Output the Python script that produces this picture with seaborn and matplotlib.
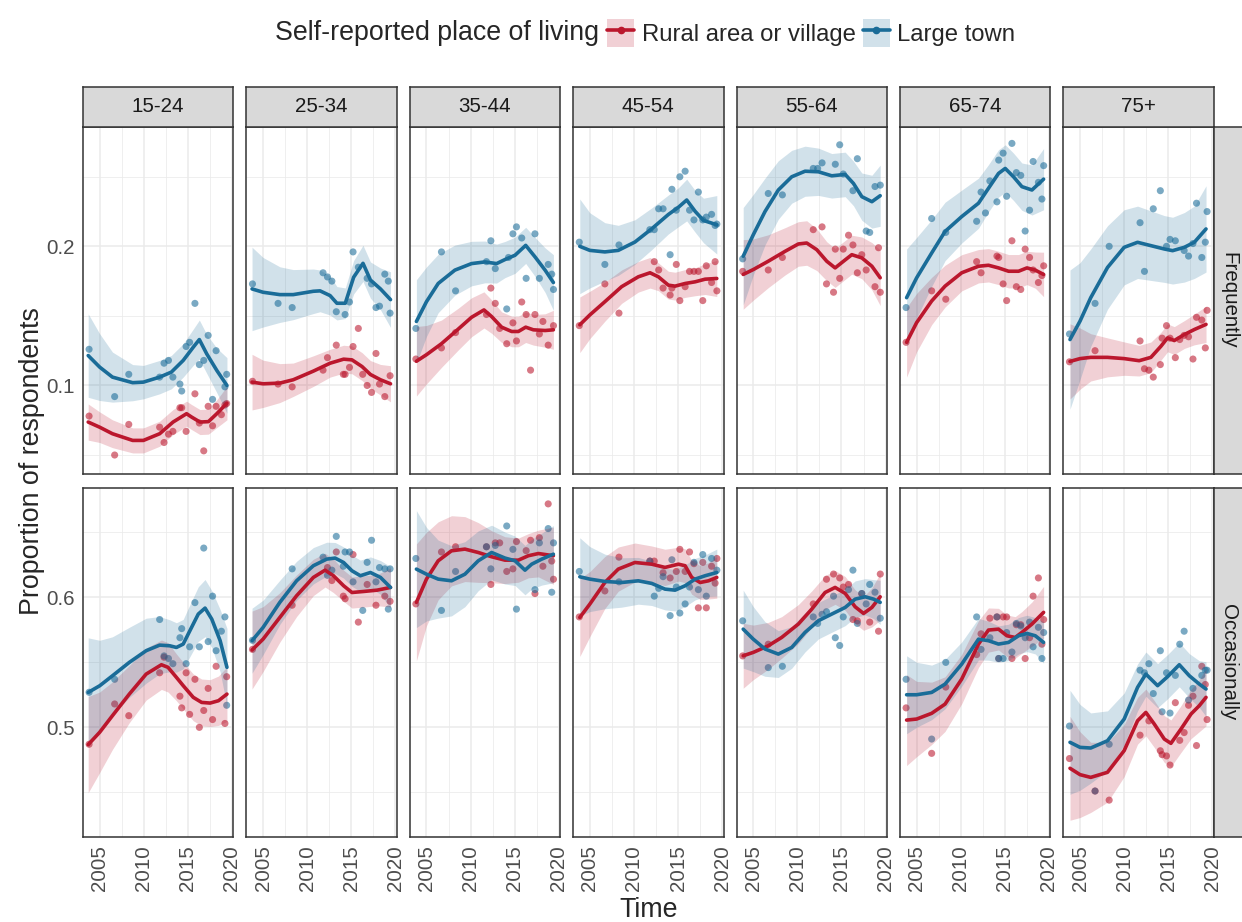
import numpy as np
import pandas as pd
import matplotlib
matplotlib.use("Agg")
import matplotlib.pyplot as plt
import seaborn as sns
from matplotlib.lines import Line2D
from matplotlib.patches import Patch

NA = np.nan

AGE_GROUPS = ["15-24", "25-34", "35-44", "45-54", "55-64", "65-74", "75+"]
FREQUENCIES = ["Frequently", "Occasionally"]
PLACES = ["Rural area or village", "Large town"]
LEGEND_TITLE = "Self-reported place of living"
X_LABEL = "Time"
Y_LABEL = "Proportion of respondents"
X_TICKS = [2005, 2010, 2015, 2020]
Y_TICKS_FREQ = [0.1, 0.2]
Y_TICKS_OCC = [0.5, 0.6]

# survey waves (decimal year)
WAVES = [2003.8, 2006.7, 2008.3, 2011.8, 2012.3, 2012.8, 2013.3, 2014.1, 2014.3, 2014.8,
         2015.2, 2015.8, 2016.3, 2016.8, 2017.3, 2017.8, 2018.2, 2018.8, 2019.2, 2019.4]

# ---- observed proportions, one list per age group (aligned with WAVES) ----
FREQ_RURAL_PTS = [
    [0.078, 0.050, 0.072, 0.070, 0.059, 0.065, 0.067, 0.084, 0.084, 0.067, NA, 0.094, 0.073, 0.053, 0.085, 0.071, 0.085, 0.079, 0.086, 0.087],
    [0.103, 0.101, 0.099, 0.111, 0.120, NA, 0.129, 0.108, 0.108, 0.113, 0.128, 0.141, 0.108, 0.100, 0.095, 0.123, 0.101, 0.092, NA, 0.107],
    [0.119, 0.127, 0.138, 0.151, 0.170, 0.159, 0.141, 0.130, NA, 0.145, 0.132, 0.160, 0.151, 0.111, 0.151, 0.137, 0.146, 0.129, NA, 0.143],
    [0.143, 0.173, 0.152, NA, 0.189, 0.183, 0.170, 0.165, 0.170, 0.187, 0.161, 0.171, 0.182, 0.182, 0.182, 0.161, 0.186, 0.174, 0.189, 0.168],
    [0.182, 0.183, 0.192, 0.212, NA, 0.214, 0.173, 0.167, 0.198, 0.177, 0.198, 0.208, 0.201, 0.181, 0.194, 0.183, NA, 0.171, 0.199, 0.167],
    [0.131, 0.168, 0.162, 0.189, 0.181, NA, NA, 0.193, 0.192, 0.173, 0.161, 0.204, 0.171, 0.169, 0.198, 0.192, 0.183, 0.174, 0.179, 0.186],
    [0.117, 0.125, NA, 0.132, 0.112, 0.111, 0.106, 0.115, 0.134, 0.143, 0.134, 0.120, 0.133, 0.136, 0.135, 0.119, 0.149, 0.147, 0.127, 0.154],
]
FREQ_TOWN_PTS = [
    [0.126, 0.092, 0.108, 0.106, 0.116, 0.118, 0.106, 0.101, 0.096, 0.128, 0.131, 0.159, 0.115, 0.118, 0.136, 0.090, 0.125, NA, 0.099, 0.108],
    [0.173, 0.159, 0.156, 0.181, 0.178, 0.175, 0.153, NA, 0.151, 0.160, 0.196, 0.185, NA, 0.177, 0.173, 0.156, 0.157, 0.180, 0.175, 0.152],
    [0.141, 0.196, 0.168, 0.189, 0.204, 0.184, NA, 0.155, 0.192, 0.209, 0.214, 0.206, 0.177, NA, 0.209, 0.177, NA, 0.187, 0.180, 0.169],
    [0.203, 0.187, 0.201, 0.212, 0.212, 0.227, 0.227, 0.194, 0.241, 0.226, 0.250, 0.254, 0.226, 0.219, 0.239, 0.219, 0.221, 0.223, 0.215, 0.216],
    [0.191, 0.238, 0.237, 0.256, 0.256, 0.260, NA, NA, 0.259, 0.273, 0.252, NA, 0.240, 0.263, NA, 0.211, 0.210, 0.243, NA, 0.244],
    [0.156, 0.220, 0.210, 0.218, 0.239, 0.224, 0.247, 0.232, 0.262, 0.267, 0.236, 0.274, 0.253, 0.251, 0.211, 0.226, 0.261, 0.246, 0.234, 0.258],
    [0.137, 0.159, 0.200, 0.217, 0.182, NA, 0.227, 0.240, NA, 0.200, 0.205, 0.204, NA, 0.197, 0.193, 0.202, 0.231, 0.192, 0.203, 0.225],
]
OCC_RURAL_PTS = [
    [0.487, 0.518, 0.509, 0.542, 0.554, NA, NA, 0.524, 0.515, 0.542, 0.510, 0.537, 0.500, 0.513, 0.530, 0.506, 0.547, NA, 0.503, 0.539],
    [0.560, NA, 0.594, NA, 0.623, 0.613, 0.635, 0.601, 0.599, NA, 0.633, 0.581, NA, 0.610, NA, 0.594, NA, 0.601, NA, 0.597],
    [0.595, 0.635, 0.639, 0.639, 0.610, 0.642, 0.642, 0.620, NA, 0.622, 0.643, NA, 0.636, 0.644, 0.603, 0.646, 0.624, 0.672, 0.628, 0.614],
    [0.585, 0.605, 0.631, 0.628, 0.628, NA, 0.619, 0.615, NA, 0.620, 0.637, 0.620, 0.635, 0.626, 0.592, 0.627, 0.592, 0.624, 0.611, 0.630],
    [0.555, 0.564, NA, 0.595, NA, NA, 0.614, 0.618, NA, 0.615, 0.608, 0.610, 0.583, 0.582, 0.603, NA, 0.581, NA, 0.574, 0.618],
    [0.515, 0.480, 0.531, 0.556, 0.572, NA, 0.584, 0.585, 0.553, 0.585, 0.585, 0.553, 0.579, 0.579, 0.553, 0.569, 0.601, 0.615, 0.564, 0.583],
    [0.476, 0.451, 0.444, 0.494, NA, 0.505, NA, 0.482, 0.479, 0.478, 0.471, 0.519, 0.490, 0.496, 0.517, 0.524, 0.486, 0.547, 0.533, 0.506],
]
OCC_TOWN_PTS = [
    [0.527, 0.537, NA, 0.583, 0.555, 0.553, 0.549, 0.569, 0.576, 0.549, 0.562, 0.596, 0.562, 0.638, 0.566, 0.601, 0.559, 0.574, 0.585, 0.517],
    [0.567, NA, 0.622, 0.631, 0.617, 0.621, 0.647, 0.624, 0.635, 0.635, 0.612, NA, 0.590, 0.627, 0.644, 0.612, 0.623, 0.622, 0.591, 0.622],
    [0.630, 0.590, 0.620, 0.639, 0.622, 0.640, NA, 0.655, NA, 0.637, 0.591, NA, NA, NA, 0.606, 0.642, NA, 0.653, 0.604, 0.642],
    [0.620, NA, 0.612, 0.628, 0.601, 0.607, 0.616, 0.586, 0.629, 0.608, 0.588, 0.595, 0.608, 0.627, 0.606, 0.633, 0.601, 0.630, NA, 0.621],
    [0.582, 0.546, 0.547, 0.585, 0.580, 0.587, 0.589, 0.601, 0.569, 0.563, 0.585, 0.606, 0.621, 0.580, 0.603, 0.595, 0.610, 0.604, NA, 0.584],
    [0.537, 0.491, 0.550, 0.585, 0.560, NA, 0.569, 0.585, 0.553, 0.553, 0.573, 0.558, 0.580, 0.578, 0.569, 0.581, 0.562, 0.577, 0.553, 0.573],
    [0.501, 0.451, 0.487, 0.544, 0.542, 0.549, 0.526, 0.559, 0.512, 0.542, 0.511, 0.540, 0.564, 0.574, 0.521, 0.530, NA, 0.540, 0.544, 0.544],
]

# ---- smoothed trend: year, fit, ribbon half-width ----
FREQ_RURAL_FIT_X = [
    [2003.7, 2005.0, 2006.45, 2008.74, 2009.96, 2011.8, 2013.32, 2014.85, 2015.42, 2016.37, 2017.33, 2018.28, 2019.43],
    [2003.75, 2005.0, 2006.9, 2008.42, 2010.7, 2012.6, 2014.13, 2015.08, 2016.22, 2017.17, 2018.31, 2019.45],
    [2003.86, 2005.0, 2006.7, 2008.6, 2010.11, 2011.52, 2012.39, 2013.52, 2014.66, 2015.42, 2016.25, 2017.12, 2018.45, 2019.39],
    [2003.86, 2005.0, 2006.7, 2008.6, 2010.49, 2011.82, 2012.77, 2013.9, 2014.66, 2015.8, 2016.93, 2018.07, 2019.39],
    [2003.86, 2005.0, 2006.7, 2008.6, 2010.11, 2011.06, 2012.2, 2013.33, 2014.28, 2015.23, 2016.17, 2017.31, 2018.45, 2019.39],
    [2003.86, 2005.0, 2006.7, 2008.22, 2010.11, 2012.01, 2013.14, 2014.28, 2015.42, 2016.55, 2017.5, 2018.45, 2019.39],
    [2003.86, 2005.0, 2006.21, 2008.11, 2010.0, 2011.7, 2013.03, 2014.17, 2014.92, 2015.68, 2016.82, 2017.95, 2019.28],
]
FREQ_RURAL_FIT_Y = [
    [0.0737, 0.070, 0.0653, 0.0605, 0.0605, 0.0653, 0.0737, 0.0797, 0.0773, 0.0737, 0.074, 0.0797, 0.0873],
    [0.1024, 0.1012, 0.1017, 0.1041, 0.1103, 0.116, 0.1189, 0.1184, 0.1136, 0.1079, 0.1041, 0.1012],
    [0.1174, 0.1221, 0.13, 0.1405, 0.149, 0.1543, 0.1495, 0.1419, 0.1388, 0.1388, 0.1419, 0.14, 0.1395, 0.14],
    [0.1436, 0.1507, 0.1602, 0.171, 0.1781, 0.181, 0.1781, 0.1721, 0.1714, 0.1733, 0.1745, 0.1764, 0.1769],
    [0.1798, 0.1833, 0.1893, 0.1964, 0.2017, 0.2024, 0.1976, 0.1893, 0.1845, 0.1893, 0.194, 0.1917, 0.1857, 0.1774],
    [0.131, 0.1452, 0.1607, 0.1714, 0.181, 0.1857, 0.1864, 0.1845, 0.1821, 0.1821, 0.1845, 0.1829, 0.1798],
    [0.1173, 0.1193, 0.1202, 0.1202, 0.1193, 0.1178, 0.1202, 0.1282, 0.1342, 0.1323, 0.1366, 0.1402, 0.1439],
]
FREQ_RURAL_FIT_SE = [
    [0.013, 0.011, 0.010, 0.009, 0.009, 0.009, 0.009, 0.009, 0.009, 0.009, 0.009, 0.010, 0.012],
    [0.020, 0.017, 0.014, 0.012, 0.011, 0.010, 0.010, 0.010, 0.010, 0.010, 0.011, 0.013],
    [0.025, 0.021, 0.017, 0.015, 0.014, 0.013, 0.012, 0.011, 0.011, 0.011, 0.011, 0.011, 0.012, 0.014],
    [0.020, 0.017, 0.014, 0.012, 0.011, 0.011, 0.010, 0.010, 0.010, 0.010, 0.010, 0.011, 0.013],
    [0.025, 0.022, 0.019, 0.017, 0.016, 0.016, 0.015, 0.014, 0.014, 0.014, 0.014, 0.015, 0.017, 0.020],
    [0.025, 0.021, 0.017, 0.015, 0.013, 0.012, 0.012, 0.012, 0.012, 0.012, 0.012, 0.013, 0.016],
    [0.027, 0.022, 0.017, 0.014, 0.012, 0.011, 0.011, 0.010, 0.010, 0.010, 0.010, 0.011, 0.013],
]

FREQ_TOWN_FIT_X = [
    [2003.7, 2005.0, 2006.45, 2008.74, 2009.96, 2011.8, 2013.13, 2014.47, 2015.61, 2016.3, 2017.14, 2018.28, 2019.43],
    [2003.75, 2005.0, 2006.9, 2008.42, 2010.7, 2011.46, 2012.6, 2013.37, 2014.32, 2015.27, 2016.33, 2017.17, 2018.31, 2019.45],
    [2003.86, 2005.0, 2006.33, 2008.22, 2010.11, 2011.63, 2012.95, 2013.9, 2015.04, 2016.25, 2017.31, 2018.45, 2019.39],
    [2003.86, 2005.0, 2006.7, 2008.22, 2010.11, 2012.01, 2013.9, 2015.04, 2015.98, 2016.93, 2017.88, 2019.39],
    [2003.86, 2005.0, 2006.33, 2007.84, 2009.36, 2010.87, 2012.39, 2013.9, 2015.42, 2016.36, 2017.31, 2018.45, 2019.39],
    [2003.86, 2005.0, 2006.7, 2008.22, 2010.11, 2012.01, 2013.14, 2014.28, 2015.04, 2015.98, 2016.93, 2018.07, 2019.39],
    [2003.86, 2005.0, 2006.21, 2008.11, 2010.0, 2011.52, 2013.03, 2014.55, 2015.49, 2016.82, 2017.95, 2019.28],
]
FREQ_TOWN_FIT_Y = [
    [0.1215, 0.1132, 0.106, 0.102, 0.1024, 0.106, 0.1096, 0.118, 0.1275, 0.133, 0.1227, 0.1108, 0.100],
    [0.1694, 0.167, 0.1653, 0.1653, 0.1677, 0.168, 0.1646, 0.1591, 0.1591, 0.1778, 0.1878, 0.1758, 0.1694, 0.1617],
    [0.146, 0.1602, 0.1733, 0.1829, 0.1876, 0.1888, 0.1876, 0.1905, 0.1936, 0.2007, 0.1924, 0.1829, 0.174],
    [0.2, 0.1971, 0.196, 0.1971, 0.2031, 0.2126, 0.2229, 0.2281, 0.2333, 0.2252, 0.2186, 0.2155],
    [0.1929, 0.2083, 0.225, 0.2405, 0.25, 0.254, 0.2536, 0.2507, 0.2517, 0.2452, 0.2357, 0.2321, 0.2364],
    [0.1631, 0.1774, 0.1952, 0.2107, 0.2214, 0.231, 0.2417, 0.2524, 0.256, 0.25, 0.2429, 0.2405, 0.2483],
    [0.133, 0.1463, 0.1631, 0.1848, 0.1993, 0.2029, 0.2005, 0.1981, 0.1969, 0.1993, 0.2029, 0.2125],
]
FREQ_TOWN_FIT_SE = [
    [0.030, 0.024, 0.018, 0.013, 0.012, 0.012, 0.012, 0.012, 0.013, 0.014, 0.014, 0.016, 0.020],
    [0.030, 0.025, 0.020, 0.018, 0.016, 0.015, 0.014, 0.012, 0.011, 0.012, 0.013, 0.013, 0.015, 0.020],
    [0.030, 0.025, 0.021, 0.018, 0.016, 0.015, 0.014, 0.013, 0.013, 0.013, 0.014, 0.016, 0.020],
    [0.034, 0.027, 0.021, 0.018, 0.016, 0.015, 0.014, 0.014, 0.015, 0.015, 0.016, 0.021],
    [0.035, 0.029, 0.024, 0.021, 0.019, 0.018, 0.017, 0.016, 0.016, 0.016, 0.017, 0.019, 0.022],
    [0.035, 0.029, 0.024, 0.021, 0.019, 0.018, 0.017, 0.017, 0.017, 0.017, 0.017, 0.018, 0.022],
    [0.050, 0.042, 0.035, 0.030, 0.027, 0.026, 0.025, 0.024, 0.024, 0.025, 0.026, 0.031],
]

OCC_RURAL_FIT_X = [
    [2003.7, 2005.0, 2006.45, 2008.36, 2010.27, 2012.0, 2012.75, 2013.7, 2014.47, 2015.61, 2016.56, 2017.52, 2018.47, 2019.43],
    [2003.75, 2005.0, 2006.9, 2008.8, 2010.7, 2012.03, 2012.98, 2014.13, 2015.08, 2016.41, 2017.93, 2019.45],
    [2003.86, 2005.0, 2006.33, 2007.84, 2009.36, 2010.87, 2012.39, 2013.9, 2015.42, 2016.55, 2017.69, 2019.39],
    [2003.86, 2005.0, 2006.7, 2008.22, 2010.11, 2012.01, 2013.52, 2015.04, 2015.8, 2016.55, 2017.5, 2018.45, 2019.39],
    [2003.86, 2005.0, 2006.7, 2008.22, 2010.11, 2011.63, 2013.14, 2014.28, 2015.42, 2016.55, 2017.5, 2018.45, 2019.39],
    [2003.86, 2005.0, 2006.7, 2008.22, 2010.11, 2012.01, 2013.14, 2014.28, 2015.23, 2016.17, 2016.93, 2018.07, 2019.39],
    [2003.86, 2005.0, 2006.21, 2008.11, 2010.0, 2011.52, 2012.46, 2013.41, 2014.55, 2015.3, 2016.44, 2017.58, 2018.52, 2019.28],
]
OCC_RURAL_FIT_Y = [
    [0.4867, 0.4962, 0.509, 0.5256, 0.541, 0.5482, 0.5462, 0.5385, 0.5321, 0.5231, 0.5192, 0.5187, 0.5205, 0.5256],
    [0.5595, 0.5679, 0.5846, 0.6013, 0.6154, 0.621, 0.6167, 0.609, 0.6038, 0.6046, 0.6056, 0.6077],
    [0.5962, 0.6141, 0.6282, 0.6359, 0.6372, 0.6346, 0.6313, 0.6287, 0.6287, 0.6321, 0.6338, 0.6321],
    [0.5846, 0.5949, 0.6115, 0.6218, 0.6269, 0.6256, 0.6231, 0.6256, 0.6244, 0.6154, 0.6115, 0.6128, 0.6154],
    [0.5551, 0.5577, 0.5628, 0.5692, 0.5795, 0.591, 0.6038, 0.6077, 0.6031, 0.5928, 0.5877, 0.5923, 0.6005],
    [0.5056, 0.5064, 0.5108, 0.5179, 0.5372, 0.5641, 0.5749, 0.5756, 0.5705, 0.5692, 0.5731, 0.5795, 0.5885],
    [0.4685, 0.4636, 0.4615, 0.4654, 0.4821, 0.5051, 0.5115, 0.5026, 0.491, 0.4877, 0.4987, 0.5103, 0.5167, 0.5231],
]
OCC_RURAL_FIT_SE = [
    [0.037, 0.031, 0.026, 0.022, 0.020, 0.019, 0.019, 0.018, 0.018, 0.018, 0.018, 0.018, 0.019, 0.021],
    [0.030, 0.025, 0.019, 0.016, 0.014, 0.013, 0.013, 0.012, 0.012, 0.012, 0.012, 0.015],
    [0.045, 0.036, 0.030, 0.027, 0.025, 0.023, 0.020, 0.018, 0.017, 0.017, 0.018, 0.022],
    [0.030, 0.025, 0.020, 0.017, 0.015, 0.014, 0.014, 0.013, 0.013, 0.013, 0.013, 0.014, 0.016],
    [0.025, 0.021, 0.018, 0.016, 0.015, 0.014, 0.013, 0.013, 0.013, 0.013, 0.013, 0.015, 0.018],
    [0.035, 0.029, 0.024, 0.021, 0.019, 0.018, 0.017, 0.016, 0.016, 0.016, 0.016, 0.017, 0.020],
    [0.040, 0.033, 0.027, 0.023, 0.020, 0.018, 0.018, 0.018, 0.018, 0.018, 0.018, 0.019, 0.020, 0.022],
]

OCC_TOWN_FIT_X = [
    [2003.7, 2005.0, 2006.45, 2008.36, 2010.27, 2011.8, 2012.94, 2013.7, 2014.47, 2015.23, 2016.18, 2016.95, 2017.71, 2018.66, 2019.43],
    [2003.75, 2005.0, 2006.9, 2008.8, 2010.7, 2012.22, 2013.17, 2014.13, 2015.08, 2016.03, 2017.17, 2018.31, 2019.45],
    [2003.86, 2005.0, 2006.33, 2007.84, 2009.36, 2010.87, 2012.39, 2013.9, 2015.04, 2016.17, 2016.93, 2018.07, 2019.39],
    [2003.86, 2005.0, 2006.7, 2008.6, 2010.49, 2012.01, 2013.52, 2014.66, 2015.8, 2016.93, 2018.07, 2019.39],
    [2003.86, 2005.0, 2006.33, 2007.84, 2009.36, 2010.87, 2012.39, 2013.9, 2015.42, 2016.55, 2017.69, 2018.64, 2019.39],
    [2003.86, 2005.0, 2006.7, 2008.22, 2010.11, 2012.01, 2013.14, 2014.28, 2015.42, 2016.55, 2017.5, 2018.45, 2019.39],
    [2003.86, 2005.0, 2006.21, 2008.11, 2010.0, 2011.52, 2012.46, 2013.03, 2013.79, 2014.92, 2016.25, 2017.39, 2018.52, 2019.28],
]
OCC_TOWN_FIT_Y = [
    [0.5269, 0.532, 0.5397, 0.55, 0.559, 0.5633, 0.5628, 0.5615, 0.5641, 0.5744, 0.5872, 0.5918, 0.5833, 0.5667, 0.5462],
    [0.5667, 0.5769, 0.5962, 0.6128, 0.6244, 0.6295, 0.6303, 0.6269, 0.6205, 0.6167, 0.6192, 0.6154, 0.6077],
    [0.6218, 0.6179, 0.6141, 0.6128, 0.6179, 0.6282, 0.6346, 0.6303, 0.6282, 0.621, 0.6256, 0.6295, 0.6333],
    [0.6159, 0.6141, 0.6123, 0.6115, 0.6128, 0.6108, 0.6064, 0.6056, 0.609, 0.6141, 0.6167, 0.6192],
    [0.5756, 0.5679, 0.5603, 0.5564, 0.5615, 0.5731, 0.5821, 0.5872, 0.5923, 0.5987, 0.6005, 0.5987, 0.5962],
    [0.5251, 0.5251, 0.5269, 0.5333, 0.5487, 0.5679, 0.5667, 0.5641, 0.5654, 0.5705, 0.5723, 0.5705, 0.5654],
    [0.4885, 0.4846, 0.4841, 0.4897, 0.5064, 0.5308, 0.541, 0.5372, 0.5321, 0.539, 0.5482, 0.5397, 0.5333, 0.5295],
]
OCC_TOWN_FIT_SE = [
    [0.042, 0.035, 0.030, 0.027, 0.025, 0.022, 0.020, 0.019, 0.019, 0.020, 0.021, 0.022, 0.022, 0.024, 0.030],
    [0.025, 0.021, 0.017, 0.015, 0.014, 0.013, 0.012, 0.012, 0.012, 0.012, 0.012, 0.013, 0.016],
    [0.045, 0.036, 0.030, 0.027, 0.025, 0.023, 0.021, 0.020, 0.019, 0.019, 0.019, 0.020, 0.022],
    [0.030, 0.025, 0.021, 0.019, 0.018, 0.017, 0.016, 0.016, 0.016, 0.016, 0.016, 0.018],
    [0.030, 0.025, 0.021, 0.018, 0.016, 0.015, 0.014, 0.014, 0.014, 0.014, 0.014, 0.015, 0.017],
    [0.030, 0.025, 0.021, 0.019, 0.017, 0.016, 0.015, 0.014, 0.014, 0.014, 0.014, 0.014, 0.016],
    [0.040, 0.033, 0.027, 0.023, 0.020, 0.018, 0.017, 0.017, 0.017, 0.017, 0.017, 0.017, 0.018, 0.021],
]

# ---------------- build tidy tables ----------------
pts_src = {("Frequently", PLACES[0]): FREQ_RURAL_PTS, ("Frequently", PLACES[1]): FREQ_TOWN_PTS,
           ("Occasionally", PLACES[0]): OCC_RURAL_PTS, ("Occasionally", PLACES[1]): OCC_TOWN_PTS}
fit_src = {("Frequently", PLACES[0]): (FREQ_RURAL_FIT_X, FREQ_RURAL_FIT_Y, FREQ_RURAL_FIT_SE),
           ("Frequently", PLACES[1]): (FREQ_TOWN_FIT_X, FREQ_TOWN_FIT_Y, FREQ_TOWN_FIT_SE),
           ("Occasionally", PLACES[0]): (OCC_RURAL_FIT_X, OCC_RURAL_FIT_Y, OCC_RURAL_FIT_SE),
           ("Occasionally", PLACES[1]): (OCC_TOWN_FIT_X, OCC_TOWN_FIT_Y, OCC_TOWN_FIT_SE)}

rows = []
for (fr, pl), lists in pts_src.items():
    for age, vals in zip(AGE_GROUPS, lists):
        for w, v in zip(WAVES, vals):
            rows.append(dict(freq=fr, place=pl, age=age, year=w, value=v))
pts = pd.DataFrame(rows).dropna()

rows = []
for (fr, pl), (xs, ys, ses) in fit_src.items():
    for age, x, y, s in zip(AGE_GROUPS, xs, ys, ses):
        for a, b, c in zip(x, y, s):
            rows.append(dict(freq=fr, place=pl, age=age, year=a, fit=b, lo=b - c, hi=b + c))
fits = pd.DataFrame(rows)

# ---------------- styling ----------------
sns.set_theme(style="white")
plt.rcParams['font.family'] = ['Liberation Sans', 'DejaVu Sans']

RED = "#BB172D"
BLUE = "#1A6C98"
PAL = {PLACES[0]: RED, PLACES[1]: BLUE}
GRID = "#EBEBEB"
BORDER = "#333333"
TICKTXT = "#4D4D4D"
STRIPFILL = "#D9D9D9"

W, H = 1242, 922
fig = plt.figure(figsize=(W / 100, H / 100), dpi=100)

def box(x0, y0, x1, y1):
    return [x0 / W, 1 - y1 / H, (x1 - x0) / W, (y1 - y0) / H]

PANEL_L0 = 82.9
PANEL_W = 150.4
PANEL_PITCH = 163.4
ROW_Y = [(126.7, 474.5), (488.3, 836.5)]
STRIP_Y = (87.0, 126.7)
YLIMS = [(0.036, 0.286), (0.416, 0.684)]
YTICKS = [Y_TICKS_FREQ, Y_TICKS_OCC]
XLIM = (2003.1, 2020.15)

LABEL_FS = 14.8
TITLE_FS = 19.3
LEGEND_FS = 17.2

for r, fr in enumerate(FREQUENCIES):
    y0, y1 = ROW_Y[r]
    for c, age in enumerate(AGE_GROUPS):
        x0 = PANEL_L0 + c * PANEL_PITCH
        ax = fig.add_axes(box(x0, y0, x0 + PANEL_W, y1))
        sub_p = pts[(pts.freq == fr) & (pts.age == age)]
        sub_f = fits[(fits.freq == fr) & (fits.age == age)]
        sns.scatterplot(data=sub_p, x="year", y="value", hue="place", palette=PAL,
                        hue_order=PLACES, s=26, alpha=0.58, linewidth=0,
                        legend=False, ax=ax, zorder=2)
        for pl in PLACES:
            d = sub_f[sub_f.place == pl]
            ax.fill_between(d.year, d.lo, d.hi, color=PAL[pl], alpha=0.2, lw=0, zorder=3)
        sns.lineplot(data=sub_f, x="year", y="fit", hue="place", palette=PAL,
                     hue_order=PLACES, estimator=None, lw=2.6, legend=False, ax=ax,
                     zorder=4)
        ax.set_xlim(*XLIM)
        ax.set_ylim(*YLIMS[r])
        ax.set_xticks(X_TICKS)
        ax.set_xticks([2007.5, 2012.5, 2017.5], minor=True)
        yt = YTICKS[r]
        ax.set_yticks(yt)
        step = yt[1] - yt[0]
        ax.set_yticks([yt[0] - step / 2, yt[0] + step / 2, yt[1] + step / 2], minor=True)
        ax.grid(which="major", color=GRID, lw=1.1)
        ax.grid(which="minor", color=GRID, lw=0.55)
        ax.set_axisbelow(True)
        for sp in ax.spines.values():
            sp.set_color(BORDER)
            sp.set_linewidth(1.1)
            sp.set_zorder(10)
        ax.set_xlabel("")
        ax.set_ylabel("")
        ax.tick_params(which="minor", length=0)
        ax.tick_params(which="major", color=BORDER, width=1.0, length=4, labelsize=LABEL_FS,
                       labelcolor=TICKTXT, pad=2)
        if r == 1:
            ax.set_xticklabels([str(t) for t in X_TICKS], rotation=90, va="top", ha="center")
        else:
            ax.tick_params(axis="x", length=0, labelbottom=False)
        if c == 0:
            ax.set_yticklabels([f"{t:.1f}" for t in yt])
        else:
            ax.tick_params(axis="y", length=0, labelleft=False)

        if r == 0:
            sax = fig.add_axes(box(x0, STRIP_Y[0], x0 + PANEL_W, STRIP_Y[1]))
            sax.set_facecolor(STRIPFILL)
            sax.set_xticks([]); sax.set_yticks([])
            for sp in sax.spines.values():
                sp.set_color(BORDER); sp.set_linewidth(1.1)
            sax.text(0.5, 0.5, age, ha="center", va="center", fontsize=LABEL_FS,
                     color="#1A1A1A", transform=sax.transAxes)

    # right strip
    rax = fig.add_axes(box(PANEL_L0 + 6 * PANEL_PITCH + PANEL_W, y0, 1250, y1))
    rax.set_facecolor(STRIPFILL)
    rax.set_xticks([]); rax.set_yticks([])
    for sp in rax.spines.values():
        sp.set_color(BORDER); sp.set_linewidth(1.1)
    fig.text(1229 / W, 1 - (y0 + y1) / 2 / H, fr, rotation=-90, ha="center", va="center",
             fontsize=LABEL_FS, color="#1A1A1A")

# axis titles
fig.text((PANEL_L0 + 6 * PANEL_PITCH + PANEL_W + PANEL_L0) / 2 / W, 1 - 910 / H, X_LABEL,
         ha="center", va="center", fontsize=TITLE_FS)
fig.text(32 / W, 1 - 461 / H, Y_LABEL, rotation=90, ha="center", va="center", fontsize=TITLE_FS)

# legend
fig.text(275 / W, 1 - 33 / H, LEGEND_TITLE, ha="left", va="center", fontsize=TITLE_FS)
handles = []
for pl in PLACES:
    handles.append((Patch(facecolor=PAL[pl], alpha=0.2, lw=0),
                    Line2D([], [], color=PAL[pl], lw=2.6, marker="o", ms=4.5)))
fig.legend(handles=handles, labels=PLACES, loc="center left",
           bbox_to_anchor=(607 / W, 1 - 33 / H), ncol=2, frameon=False,
           fontsize=LEGEND_FS, handlelength=1.15, handleheight=1.45, handletextpad=0.3,
           columnspacing=0.3, borderpad=0, borderaxespad=0)

fig.savefig("out.png", dpi=100)
